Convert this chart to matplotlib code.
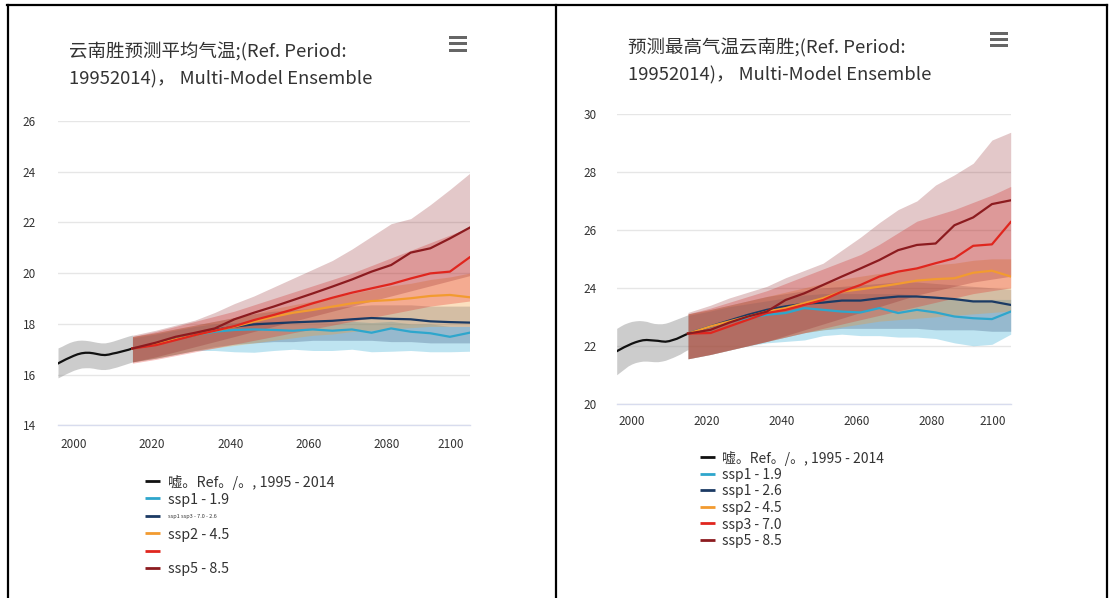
import matplotlib
matplotlib.use("Agg")
import matplotlib.pyplot as plt
from matplotlib.lines import Line2D
from matplotlib.patches import Rectangle
from matplotlib.transforms import ScaledTranslation

plt.rcParams['font.family'] = ['Noto Sans CJK SC', 'DejaVu Sans']

# ---------------- data ----------------
hist_years = list(range(1995, 2015))
proj_years = [2014] + list(range(2020, 2101, 5))

# Panel A: mean temperature (°C)
a_hist = [16.44, 16.52, 16.60, 16.67, 16.74, 16.80, 16.84, 16.86, 16.86, 16.84,
          16.81, 16.78, 16.77, 16.79, 16.83, 16.86, 16.90, 16.94, 16.98, 17.03]
a_hist_lo = [15.87, 15.95, 16.03, 16.10, 16.17, 16.22, 16.26, 16.27, 16.27, 16.25,
             16.22, 16.20, 16.20, 16.22, 16.26, 16.30, 16.35, 16.40, 16.45, 16.50]
a_hist_hi = [17.05, 17.12, 17.20, 17.27, 17.32, 17.35, 17.36, 17.35, 17.33, 17.30,
             17.27, 17.25, 17.25, 17.28, 17.32, 17.37, 17.42, 17.47, 17.52, 17.56]

a_ssp119 = [17.03, 17.20, 17.39, 17.56, 17.69, 17.76, 17.78, 17.76, 17.73, 17.78,
            17.73, 17.78, 17.65, 17.82, 17.69, 17.63, 17.49, 17.65]
a_ssp119_lo = [16.50, 16.65, 16.80, 16.95, 16.95, 16.90, 16.88, 16.95, 17.00, 16.95,
               16.95, 17.00, 16.90, 16.92, 16.95, 16.90, 16.90, 16.92]
a_ssp119_hi = [17.45, 17.60, 17.75, 17.90, 18.00, 18.05, 18.10, 18.10, 18.10, 18.10,
               18.10, 18.10, 18.05, 18.10, 18.00, 18.00, 17.90, 17.90]

a_ssp126 = [17.03, 17.20, 17.39, 17.56, 17.76, 17.89, 17.98, 18.02, 18.06, 18.09,
            18.12, 18.18, 18.23, 18.20, 18.18, 18.10, 18.07, 18.05]
a_ssp126_lo = [16.50, 16.65, 16.80, 16.95, 17.10, 17.20, 17.25, 17.30, 17.30, 17.35,
               17.35, 17.35, 17.35, 17.30, 17.30, 17.25, 17.25, 17.25]
a_ssp126_hi = [17.50, 17.65, 17.80, 17.95, 18.10, 18.25, 18.40, 18.50, 18.55, 18.60,
               18.65, 18.70, 18.75, 18.75, 18.75, 18.70, 18.70, 18.70]

a_ssp245 = [17.03, 17.20, 17.39, 17.56, 17.73, 17.89, 18.09, 18.28, 18.44, 18.55,
            18.68, 18.81, 18.90, 18.94, 19.01, 19.10, 19.14, 19.05]
a_ssp245_lo = [16.50, 16.65, 16.80, 16.95, 17.05, 17.15, 17.25, 17.35, 17.45, 17.55,
               17.60, 17.70, 17.75, 17.80, 17.85, 17.90, 17.90, 17.90]
a_ssp245_hi = [17.50, 17.65, 17.80, 17.95, 18.10, 18.25, 18.40, 18.60, 18.75, 18.90,
               19.05, 19.20, 19.35, 19.50, 19.60, 19.75, 19.85, 20.00]

a_ssp370 = [17.03, 17.16, 17.36, 17.56, 17.73, 17.91, 18.15, 18.35, 18.57, 18.81,
            19.03, 19.23, 19.40, 19.57, 19.79, 19.99, 20.06, 20.62]
a_ssp370_lo = [16.45, 16.60, 16.75, 16.90, 17.05, 17.20, 17.35, 17.50, 17.65, 17.80,
               17.95, 18.10, 18.25, 18.40, 18.55, 18.70, 18.80, 18.90]
a_ssp370_hi = [17.50, 17.70, 17.90, 18.10, 18.30, 18.50, 18.75, 19.00, 19.25, 19.50,
               19.75, 20.00, 20.30, 20.60, 20.90, 21.20, 21.50, 21.80]

a_ssp585 = [17.03, 17.26, 17.49, 17.65, 17.82, 18.18, 18.44, 18.68, 18.94, 19.20,
            19.47, 19.75, 20.06, 20.32, 20.81, 20.98, 21.37, 21.79]
a_ssp585_lo = [16.50, 16.70, 16.90, 17.10, 17.30, 17.50, 17.70, 17.90, 18.10, 18.30,
               18.50, 18.70, 18.90, 19.10, 19.30, 19.50, 19.70, 19.90]
a_ssp585_hi = [17.55, 17.75, 17.95, 18.15, 18.45, 18.80, 19.10, 19.45, 19.80, 20.15,
               20.50, 20.95, 21.45, 21.95, 22.15, 22.70, 23.30, 23.93]

# Panel B: maximum temperature (°C)
b_hist = [21.81, 21.88, 21.95, 22.01, 22.07, 22.12, 22.16, 22.19, 22.20, 22.19,
          22.18, 22.17, 22.15, 22.14, 22.16, 22.20, 22.24, 22.30, 22.36, 22.42]
b_hist_lo = [21.00, 21.10, 21.20, 21.30, 21.37, 21.42, 21.45, 21.47, 21.47, 21.46,
             21.45, 21.45, 21.47, 21.50, 21.55, 21.60, 21.66, 21.72, 21.80, 21.87]
b_hist_hi = [22.60, 22.68, 22.75, 22.80, 22.84, 22.86, 22.87, 22.86, 22.84, 22.80,
             22.77, 22.76, 22.76, 22.78, 22.82, 22.87, 22.92, 22.97, 23.02, 23.07]

b_ssp119 = [22.42, 22.67, 22.84, 22.95, 23.07, 23.13, 23.30, 23.24, 23.18, 23.15,
            23.30, 23.13, 23.24, 23.15, 23.01, 22.95, 22.92, 23.18]
b_ssp119_lo = [21.55, 21.70, 21.85, 22.00, 22.10, 22.15, 22.20, 22.35, 22.40, 22.35,
               22.35, 22.30, 22.30, 22.25, 22.10, 22.00, 22.05, 22.40]
b_ssp119_hi = [23.05, 23.20, 23.35, 23.45, 23.55, 23.65, 23.75, 23.80, 23.80, 23.80,
               23.80, 23.80, 23.75, 23.70, 23.65, 23.60, 23.60, 23.60]

b_ssp126 = [22.42, 22.67, 22.87, 23.07, 23.24, 23.36, 23.45, 23.49, 23.56, 23.56,
            23.64, 23.70, 23.70, 23.66, 23.61, 23.53, 23.53, 23.41]
b_ssp126_lo = [21.55, 21.70, 21.85, 22.00, 22.15, 22.30, 22.45, 22.55, 22.60, 22.60,
               22.60, 22.60, 22.60, 22.55, 22.55, 22.55, 22.50, 22.50]
b_ssp126_hi = [23.10, 23.25, 23.40, 23.55, 23.70, 23.80, 23.90, 24.00, 24.05, 24.10,
               24.15, 24.20, 24.20, 24.15, 24.10, 24.05, 24.00, 23.95]

b_ssp245 = [22.42, 22.67, 22.84, 23.01, 23.18, 23.30, 23.47, 23.64, 23.87, 23.95,
            24.04, 24.14, 24.25, 24.30, 24.33, 24.52, 24.59, 24.39]
b_ssp245_lo = [21.55, 21.70, 21.85, 22.00, 22.15, 22.30, 22.45, 22.55, 22.65, 22.75,
               22.85, 22.90, 22.95, 23.00, 23.05, 23.10, 23.15, 23.20]
b_ssp245_hi = [23.10, 23.25, 23.40, 23.55, 23.70, 23.85, 24.00, 24.15, 24.30, 24.40,
               24.50, 24.60, 24.70, 24.80, 24.85, 24.95, 25.00, 25.00]

b_ssp370 = [22.42, 22.44, 22.67, 22.90, 23.13, 23.24, 23.41, 23.58, 23.87, 24.10,
            24.39, 24.56, 24.67, 24.85, 25.02, 25.45, 25.50, 26.27]
b_ssp370_lo = [21.55, 21.70, 21.85, 22.00, 22.15, 22.30, 22.45, 22.60, 22.75, 22.90,
               23.05, 23.20, 23.35, 23.50, 23.65, 23.80, 23.90, 24.00]
b_ssp370_hi = [23.10, 23.30, 23.50, 23.70, 23.90, 24.15, 24.40, 24.65, 24.90, 25.15,
               25.50, 25.90, 26.30, 26.50, 26.70, 26.95, 27.20, 27.50]

b_ssp585 = [22.42, 22.55, 22.80, 23.01, 23.18, 23.58, 23.81, 24.10, 24.39, 24.67,
            24.96, 25.30, 25.48, 25.53, 26.16, 26.43, 26.89, 27.02]
b_ssp585_lo = [21.55, 21.70, 21.85, 22.00, 22.15, 22.35, 22.55, 22.75, 22.95, 23.15,
               23.35, 23.55, 23.75, 23.90, 24.05, 24.20, 24.30, 24.40]
b_ssp585_hi = [23.15, 23.40, 23.65, 23.85, 24.05, 24.35, 24.60, 24.85, 25.30, 25.75,
               26.25, 26.70, 27.00, 27.55, 27.90, 28.30, 29.10, 29.37]

title_a = "云南胜预测平均气温;(Ref. Period:\n19952014)， Multi-Model Ensemble"
title_b = "预测最高气温云南胜;(Ref. Period:\n19952014)， Multi-Model Ensemble"

hist_label = "嘘。Ref。/。, 1995 - 2014"
labels_a = [hist_label, "ssp1 - 1.9", "ssp1 ssp3 - 7.0 - 2.6", "ssp2 - 4.5", "", "ssp5 - 8.5"]
label_sizes_a = [10.3, 10.3, 4, 10.3, 10.3, 10.3]
labels_b = [hist_label, "ssp1 - 1.9", "ssp1 - 2.6", "ssp2 - 4.5", "ssp3 - 7.0", "ssp5 - 8.5"]

x_ticks = [2000, 2020, 2040, 2060, 2080, 2100]
a_yticks = [14, 16, 18, 20, 22, 24, 26]
b_yticks = [20, 22, 24, 26, 28, 30]

# ---------------- styles ----------------
hist_col = '#111111'
hist_band = '#9a9a9a'
line_cols = ['#2ea6cc', '#1b3a64', '#f29b30', '#e0261e', '#8c1b1f']
band_cols = ['#2aa8d2', '#1f3c68', '#f59a2c', '#e3241d', '#8b1a1e']
band_alpha = [0.30, 0.25, 0.30, 0.28, 0.24]
text_col = '#333333'
grid_col = '#e6e6e6'

W, H = 1110, 598
fig = plt.figure(figsize=(W / 100, H / 100), dpi=100)


def px_rect(x0, x1, ytop, ybot):
    return [x0 / W, 1 - ybot / H, (x1 - x0) / W, (ybot - ytop) / H]


def draw_panel(rect, hist, hist_lo, hist_hi, scen, ylim, yticks, ytick_pad, xtick_pad,
               xlab_shift, last_shift):
    ax = fig.add_axes(rect)
    ax.fill_between(hist_years, hist_lo, hist_hi, color=hist_band, alpha=0.5, lw=0, zorder=1)
    for (mid, lo, hi), bc, ba in zip(scen, band_cols, band_alpha):
        ax.fill_between(proj_years, lo, hi, color=bc, alpha=ba, lw=0, zorder=2)
    lines = [ax.plot(hist_years, hist, color=hist_col, lw=1.6, zorder=5)[0]]
    for (mid, lo, hi), lc in zip(scen, line_cols):
        lines.append(ax.plot(proj_years, mid, color=lc, lw=1.6, zorder=5)[0])
    ax.set_xlim(1995, 2100)
    ax.set_ylim(*ylim)
    ax.set_yticks(yticks)
    ax.set_xticks(x_ticks)
    ax.grid(axis='y', color=grid_col, lw=1.0, zorder=0)
    ax.set_axisbelow(True)
    for s in ['top', 'right', 'left']:
        ax.spines[s].set_visible(False)
    ax.spines['bottom'].set_color('#d8dcee')
    ax.spines['bottom'].set_linewidth(1.0)
    ax.tick_params(axis='both', length=0, labelsize=8.5, labelcolor=text_col)
    ax.tick_params(axis='y', pad=ytick_pad)
    ax.tick_params(axis='x', pad=xtick_pad)
    labs = ax.get_xticklabels()
    for i, lab in enumerate(labs):
        dx = xlab_shift if i < len(labs) - 1 else last_shift
        lab.set_transform(lab.get_transform() + ScaledTranslation(dx / 100, 0, fig.dpi_scale_trans))
    return ax, lines


def hamburger(x0, x1, ys):
    for y in ys:
        fig.add_artist(Rectangle((x0 / W, 1 - (y + 1.5) / H), (x1 - x0) / W, 3 / H,
                                 transform=fig.transFigure, color='#666666', lw=0))


def legend_rows(lines, labels, sizes, hx0, hx1, tx, y0, dy):
    # one row per series: a short swatch in the series colour plus its label
    for i, (ln, lab, fs) in enumerate(zip(lines, labels, sizes)):
        y = 1 - (y0 + i * dy) / H
        fig.add_artist(Line2D([hx0 / W, hx1 / W], [y, y], transform=fig.transFigure,
                              color=ln.get_color(), lw=2.0, solid_capstyle='butt'))
        fig.text(tx / W, y, lab, fontsize=fs, color=text_col, ha='left', va='center_baseline')


# ---- panel A ----
scen_a = [(a_ssp119, a_ssp119_lo, a_ssp119_hi), (a_ssp126, a_ssp126_lo, a_ssp126_hi),
          (a_ssp245, a_ssp245_lo, a_ssp245_hi), (a_ssp370, a_ssp370_lo, a_ssp370_hi),
          (a_ssp585, a_ssp585_lo, a_ssp585_hi)]
axa, lines_a = draw_panel(px_rect(58, 469.5, 121, 425.3), a_hist, a_hist_lo, a_hist_hi, scen_a,
                          (14, 26), a_yticks, 16, 9, -4, -19)
fig.text(69 / W, 1 - 42 / H, title_a, fontsize=13.3, color=text_col, va='top', ha='left',
         linespacing=1.62)
hamburger(449, 467, [37, 43.5, 50])
legend_rows(lines_a, labels_a, label_sizes_a, 145, 160, 168, 481, 17.4)

# ---- panel B ----
scen_b = [(b_ssp119, b_ssp119_lo, b_ssp119_hi), (b_ssp126, b_ssp126_lo, b_ssp126_hi),
          (b_ssp245, b_ssp245_lo, b_ssp245_hi), (b_ssp370, b_ssp370_lo, b_ssp370_hi),
          (b_ssp585, b_ssp585_lo, b_ssp585_hi)]
axb, lines_b = draw_panel(px_rect(616.7, 1010.7, 114, 403.7), b_hist, b_hist_lo, b_hist_hi, scen_b,
                          (20, 30), b_yticks, 14.5, 8, -3.5, -18)
fig.text(627.5 / W, 1 - 38.5 / H, title_b, fontsize=13.3, color=text_col, va='top', ha='left',
         linespacing=1.62)
hamburger(990, 1008, [33, 39, 45])
legend_rows(lines_b, labels_b, [10] * 6, 700, 715, 722, 457, 16.5)

# ---- frame lines ----
for (x0, y0, x1, y1) in [(7, 5, 1107, 5), (7.5, 5, 7.5, 598), (555.5, 5, 555.5, 598),
                         (1107, 5, 1107, 598)]:
    fig.add_artist(Line2D([x0 / W, x1 / W], [1 - y0 / H, 1 - y1 / H], transform=fig.transFigure,
                          color='black', lw=1.6))

fig.savefig('out.png', dpi=100, facecolor='white')
